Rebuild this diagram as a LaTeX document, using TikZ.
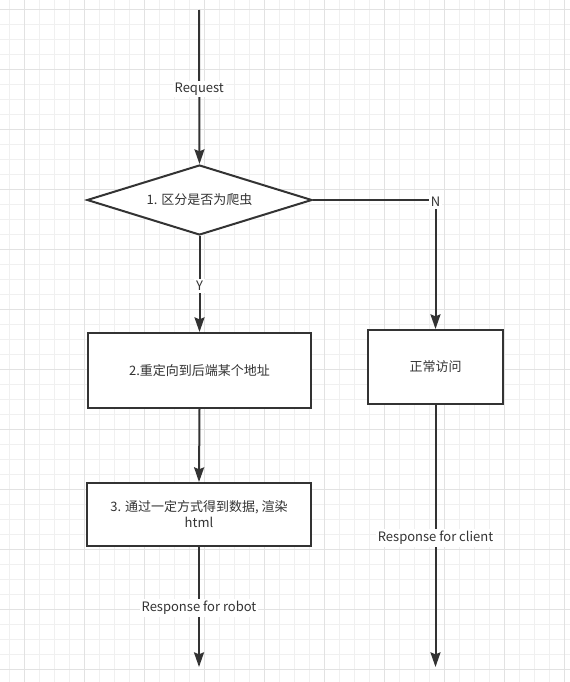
\documentclass[tikz,border=0pt]{standalone}
\usepackage{fontspec}
\setmainfont{Noto Sans CJK SC}
\usetikzlibrary{arrows.meta,shapes.geometric}
\definecolor{ink}{HTML}{333333}
\definecolor{gminor}{HTML}{F0F0F0}
\definecolor{gmajor}{HTML}{E2E2E2}
\begin{document}
\begin{tikzpicture}[x=0.75pt,y=-0.75pt,
  every node/.style={font=\fontsize{9.75pt}{12pt}\selectfont, text=ink},
  gridminor/.style={gminor, line width=0.75pt},
  gridmajor/.style={gmajor, line width=0.75pt},
  stepbox/.style={draw=ink, line width=1.5pt, fill=white, rectangle, inner sep=0pt, align=center},
  decision/.style={draw=ink, line width=1.5pt, fill=white, diamond, aspect=3.214, inner sep=0pt, minimum width=168.75pt, minimum height=52.5pt},
  conn/.style={draw=ink, line width=1.5pt, -{Stealth[length=11pt, width=7.5pt, inset=1.5pt]}},
  lbl/.style={fill=white, inner sep=1.5pt, yshift=-1.5pt}]
\useasboundingbox (0,0) rectangle (570,682);
\fill[white] (0,0) rectangle (570,682);
\foreach \i in {0,...,37} {\draw[gridminor] (9+15*\i,0) -- (9+15*\i,682);}
\foreach \i in {0,...,45} {\draw[gridminor] (0,9+15*\i) -- (570,9+15*\i);}
\foreach \i in {0,...,9} {\draw[gridmajor] (24+60*\i,0) -- (24+60*\i,682);}
\foreach \i in {0,...,11} {\draw[gridmajor] (0,9+60*\i) -- (570,9+60*\i);}

\coordinate (start) at (199,10);
\node[decision] (d) at (199.5,200) {1. 区分是否为爬虫};
\node[stepbox, minimum width=167.25pt, minimum height=56.25pt] (b2) at (199.5,370.5) {2.重定向到后端某个地址};
\node[stepbox, minimum width=101.25pt, minimum height=55.5pt] (n) at (435.5,367) {正常访问};
\node[stepbox, minimum width=168pt, minimum height=47.25pt] (b3) at (199,514.5) {3. 通过一定方式得到数据, 渲染\\html};
\coordinate (endl) at (199,667);
\coordinate (endr) at (435.5,667);

\draw[conn] (start) -- node[lbl, pos=0.5] {Request} (d.north);
\draw[conn] (d.south) -- node[lbl, pos=0.5] {Y} (b2.north);
\draw[conn] (d.east) -| node[lbl, pos=0.5] {N} (n.north);
\draw[conn] (b2.south) -- (b3.north);
\draw[conn] (b3.south) -- node[lbl, pos=0.49] {Response for robot} (endl);
\draw[conn] (n.south) -- node[lbl, pos=0.5] {Response for client} (endr);
\end{tikzpicture}
\end{document}
